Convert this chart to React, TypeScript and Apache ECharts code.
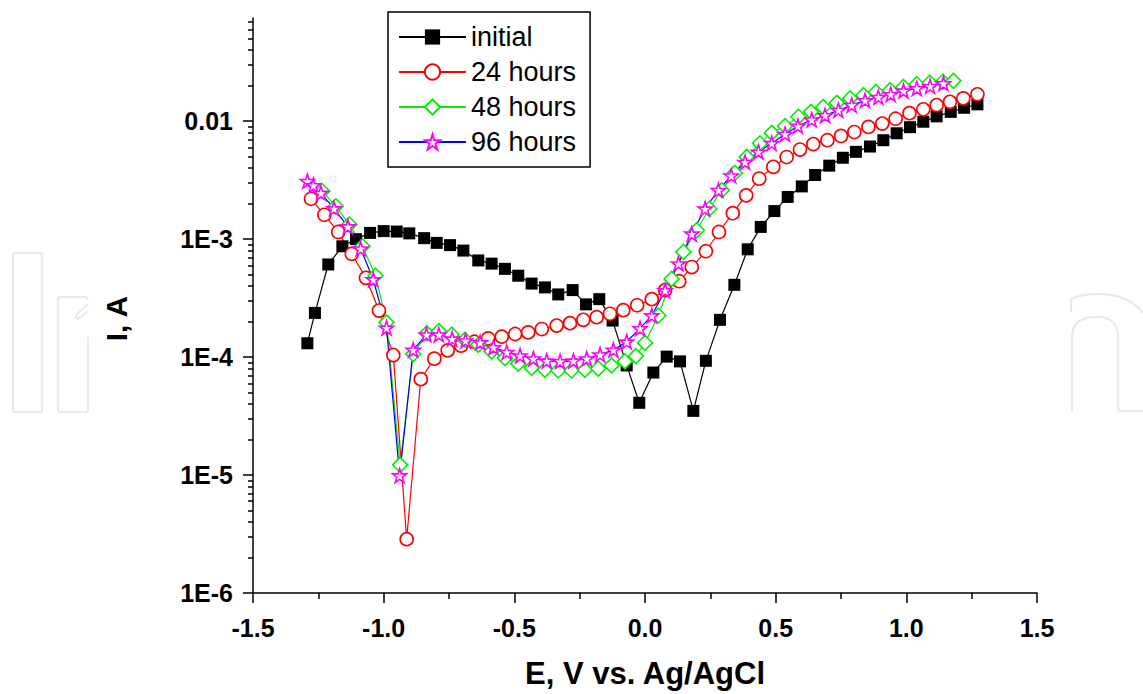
import React, { useEffect, useRef } from "react";
import * as echarts from "echarts";

// ---- data (E in V vs Ag/AgCl, I in A) ----
const initialE = [-1.292, -1.263, -1.212, -1.158, -1.106, -1.052, -1.0, -0.95, -0.902, -0.845, -0.797, -0.746, -0.695, -0.638, -0.587, -0.536, -0.485, -0.434, -0.383, -0.332, -0.277, -0.226, -0.175, -0.124, -0.07, -0.022, 0.032, 0.083, 0.134, 0.185, 0.233, 0.287, 0.342, 0.393, 0.443, 0.495, 0.546, 0.6, 0.651, 0.705, 0.757, 0.807, 0.861, 0.912, 0.963, 1.014, 1.065, 1.116, 1.17, 1.221, 1.272];
const initialI = [1.31e-4, 2.37e-4, 6.1e-4, 8.7e-4, 1.0e-3, 1.13e-3, 1.17e-3, 1.16e-3, 1.12e-3, 1.02e-3, 9.3e-4, 8.9e-4, 8.0e-4, 6.6e-4, 6.2e-4, 5.6e-4, 4.9e-4, 4.2e-4, 3.9e-4, 3.4e-4, 3.7e-4, 2.8e-4, 3.1e-4, 2.04e-4, 8.5e-5, 4.1e-5, 7.4e-5, 1.01e-4, 9.2e-5, 3.5e-5, 9.3e-5, 2.07e-4, 4.1e-4, 8.2e-4, 1.27e-3, 1.73e-3, 2.28e-3, 2.8e-3, 3.5e-3, 4.2e-3, 4.9e-3, 5.5e-3, 6.1e-3, 6.9e-3, 7.9e-3, 8.9e-3, 9.9e-3, 1.1e-2, 1.2e-2, 1.3e-2, 1.39e-2];

const h24E = [-1.278, -1.227, -1.174, -1.122, -1.068, -1.018, -0.963, -0.912, -0.858, -0.806, -0.755, -0.704, -0.653, -0.6, -0.548, -0.497, -0.447, -0.395, -0.338, -0.287, -0.236, -0.185, -0.134, -0.083, -0.03, 0.026, 0.077, 0.131, 0.179, 0.233, 0.283, 0.336, 0.387, 0.437, 0.491, 0.542, 0.593, 0.644, 0.698, 0.75, 0.801, 0.855, 0.908, 0.959, 1.012, 1.065, 1.116, 1.167, 1.218, 1.272];
const h24I = [2.2e-3, 1.61e-3, 1.15e-3, 7.5e-4, 4.7e-4, 2.48e-4, 1.04e-4, 2.86e-6, 6.5e-5, 9.7e-5, 1.14e-4, 1.25e-4, 1.35e-4, 1.44e-4, 1.49e-4, 1.57e-4, 1.62e-4, 1.73e-4, 1.85e-4, 1.94e-4, 2.07e-4, 2.18e-4, 2.33e-4, 2.5e-4, 2.75e-4, 3.1e-4, 3.7e-4, 4.4e-4, 5.8e-4, 7.9e-4, 1.15e-3, 1.66e-3, 2.35e-3, 3.26e-3, 4.1e-3, 4.97e-3, 5.75e-3, 6.4e-3, 6.9e-3, 7.5e-3, 8.1e-3, 8.95e-3, 9.55e-3, 1.05e-2, 1.17e-2, 1.26e-2, 1.37e-2, 1.46e-2, 1.56e-2, 1.69e-2];

const h48E = [-1.235, -1.183, -1.131, -1.081, -1.031, -0.989, -0.937, -0.887, -0.835, -0.789, -0.74, -0.689, -0.638, -0.587, -0.536, -0.485, -0.434, -0.383, -0.332, -0.281, -0.23, -0.179, -0.128, -0.077, -0.035, 0.0, 0.051, 0.102, 0.147, 0.198, 0.246, 0.294, 0.344, 0.389, 0.44, 0.485, 0.536, 0.587, 0.635, 0.682, 0.734, 0.785, 0.836, 0.884, 0.938, 0.989, 1.04, 1.09, 1.14, 1.18];
const h48I = [2.55e-3, 1.9e-3, 1.33e-3, 8.7e-4, 4.9e-4, 1.97e-4, 1.22e-5, 1.06e-4, 1.59e-4, 1.66e-4, 1.55e-4, 1.4e-4, 1.27e-4, 1.12e-4, 9.8e-5, 8.8e-5, 8.1e-5, 7.8e-5, 7.7e-5, 7.7e-5, 7.8e-5, 8.0e-5, 8.5e-5, 9.2e-5, 1.02e-4, 1.32e-4, 2.25e-4, 4.6e-4, 7.8e-4, 1.19e-3, 1.81e-3, 2.6e-3, 3.64e-3, 4.98e-3, 6.5e-3, 7.96e-3, 9.1e-3, 1.09e-2, 1.2e-2, 1.32e-2, 1.43e-2, 1.56e-2, 1.66e-2, 1.77e-2, 1.83e-2, 1.95e-2, 2.06e-2, 2.12e-2, 2.16e-2, 2.2e-2];

const h96E = [-1.292, -1.269, -1.24, -1.19, -1.137, -1.088, -1.04, -0.989, -0.939, -0.887, -0.836, -0.789, -0.738, -0.687, -0.631, -0.58, -0.529, -0.478, -0.427, -0.376, -0.325, -0.274, -0.223, -0.172, -0.121, -0.07, -0.019, 0.026, 0.077, 0.128, 0.179, 0.23, 0.281, 0.33, 0.383, 0.434, 0.485, 0.536, 0.585, 0.638, 0.689, 0.74, 0.791, 0.842, 0.893, 0.94, 0.989, 1.04, 1.091, 1.142];
const h96I = [3.1e-3, 2.86e-3, 2.46e-3, 1.82e-3, 1.28e-3, 8.3e-4, 4.55e-4, 1.77e-4, 9.9e-6, 1.15e-4, 1.55e-4, 1.55e-4, 1.43e-4, 1.38e-4, 1.33e-4, 1.21e-4, 1.1e-4, 1.03e-4, 9.7e-5, 9.3e-5, 9.2e-5, 9.3e-5, 9.7e-5, 1.05e-4, 1.15e-4, 1.35e-4, 1.75e-4, 2.25e-4, 3.67e-4, 6.2e-4, 1.11e-3, 1.81e-3, 2.6e-3, 3.45e-3, 4.5e-3, 5.5e-3, 6.5e-3, 7.76e-3, 9.1e-3, 1.03e-2, 1.12e-2, 1.24e-2, 1.37e-2, 1.5e-2, 1.6e-2, 1.69e-2, 1.81e-2, 1.9e-2, 1.98e-2, 2.09e-2];

const seriesNames = ["initial", "24 hours", "48 hours", "96 hours"];
const yMajorTicks = [1e-6, 1e-5, 1e-4, 1e-3, 1e-2];
const yMinorTicks = [
  2e-6, 3e-6, 4e-6, 5e-6, 6e-6, 7e-6, 8e-6, 9e-6,
  2e-5, 3e-5, 4e-5, 5e-5, 6e-5, 7e-5, 8e-5, 9e-5,
  2e-4, 3e-4, 4e-4, 5e-4, 6e-4, 7e-4, 8e-4, 9e-4,
  2e-3, 3e-3, 4e-3, 5e-3, 6e-3, 7e-3, 8e-3, 9e-3,
  2e-2, 3e-2, 4e-2, 5e-2, 6e-2, 7e-2,
];
const xMin = -1.5;
const xMax = 1.5;
const xStep = 0.5;
const yMin = 1e-6;
const yMax = 0.075;

const zip = (a: number[], b: number[]) => a.map((v, i) => [v, b[i]]);

const FONT = "'Liberation Sans', Arial, sans-serif";
const STAR =
  "path://M50,0 L61.8,35.4 L99,35.4 L69,57.3 L80.9,92.7 L50,70.8 L19.1,92.7 L31,57.3 L1,35.4 L38.2,35.4 Z";

const WATERMARK =
  "M15,253 L40,253 Q42,253 42,255 L42,410 Q42,412 40,412 L15,412 Q13,412 13,410 L13,255 Q13,253 15,253 Z " +
  "M88,337 L88,410 Q88,412 86,412 L60,412 Q58,412 58,410 L58,299 Q58,297 60,297 L84,297 Q87,297 88,300 " +
  "M88,304 L77,314 Q74,318 78,319 L88,311 " +
  "M1071,312 L1071,299 C1085,292 1125,289 1143,313 " +
  "M1072,411 L1072,337 Q1072,317 1097,317 Q1118,317 1118,337 L1118,408 Q1118,411 1121,411 L1143,411";

let registered = false;

export default function App() {
  const ref = useRef<HTMLDivElement>(null);
  useEffect(() => {
    if (!ref.current) return;
    if (!registered) {
      echarts.graphic.registerShape("wmark", echarts.graphic.extendPath(WATERMARK, {}));
      registered = true;
    }
    const chart = echarts.init(ref.current, undefined, { renderer: "svg" });
    const line = (
      name: string,
      data: number[][],
      lineColor: string,
      symbol: string,
      size: number,
      fill: string,
      border: string
    ) => ({
      name,
      type: "line",
      data,
      yAxisIndex: 0,
      symbol,
      symbolSize: size,
      showSymbol: true,
      clip: false,
      lineStyle: { color: lineColor, width: 1.2 },
      itemStyle: { color: fill, borderColor: border, borderWidth: fill === border ? 0 : 1.6 },
      emphasis: { disabled: true },
      z: 2,
    });
    chart.setOption({
      animation: false,
      backgroundColor: "#ffffff",
      graphic: [
        {
          type: "wmark",
          x: 0,
          y: 0,
          z: -10,
          silent: true,
          style: { fill: "none", stroke: "#e9e9e9", lineWidth: 2.2 },
        },
      ],
      grid: { left: 253, right: 106, top: 18, bottom: 101 },
      legend: {
        orient: "vertical",
        left: 388,
        top: 12,
        padding: [11, 14, 11, 10],
        itemGap: 7,
        itemWidth: 67,
        itemHeight: 19,
        borderColor: "#000",
        borderWidth: 1.5,
        data: seriesNames,
        textStyle: { fontSize: 27, fontFamily: FONT, color: "#000", lineHeight: 28 },
      },
      xAxis: {
        type: "value",
        min: xMin,
        max: xMax,
        interval: xStep,
        name: "E, V vs. Ag/AgCl",
        nameLocation: "middle",
        nameGap: 65,
        nameTextStyle: { fontSize: 31, fontWeight: "bold", fontFamily: FONT, color: "#000" },
        axisLine: { show: true, onZero: false, lineStyle: { color: "#000", width: 1.5 } },
        axisTick: { show: true, length: 10, lineStyle: { color: "#000", width: 1.5 } },
        minorTick: { show: true, splitNumber: 2, length: 6, lineStyle: { color: "#000", width: 1.5 } },
        splitLine: { show: false },
        axisLabel: {
          margin: 22,
          fontSize: 25,
          fontWeight: "bold",
          fontFamily: FONT,
          color: "#000",
          formatter: (v: number) => v.toFixed(1),
        },
      },
      yAxis: [
        {
          type: "log",
          logBase: 10,
          min: yMin,
          max: yMax,
          name: "I, A",
          nameLocation: "middle",
          nameGap: 122,
          nameRotate: 90,
          nameTextStyle: {
            fontSize: 30,
            fontWeight: "bold",
            fontFamily: FONT,
            color: "#000",
            padding: [0, 26, 0, 0],
          },
          axisLine: { show: true, onZero: false, lineStyle: { color: "#000", width: 1.5 } },
          axisTick: { show: true, length: 10, customValues: yMajorTicks, lineStyle: { color: "#000", width: 1.5 } },
          splitLine: { show: false },
          minorTick: { show: false },
          axisLabel: {
            margin: 20,
            customValues: yMajorTicks,
            fontSize: 25,
            fontWeight: "bold",
            fontFamily: FONT,
            color: "#000",
            formatter: (v: number) => {
              const e = Math.round(Math.log10(v));
              return e === -2 ? "0.01" : "1E" + e;
            },
          },
        },
        {
          type: "log",
          logBase: 10,
          min: yMin,
          max: yMax,
          position: "left",
          offset: 0,
          axisLine: { show: false, onZero: false },
          axisTick: { show: true, length: 5, customValues: yMinorTicks, lineStyle: { color: "#000", width: 1.5 } },
          axisLabel: { show: false },
          splitLine: { show: false },
        },
      ],
      series: [
        line(seriesNames[0], zip(initialE, initialI), "#000000", "rect", 12, "#000000", "#000000"),
        line(seriesNames[1], zip(h24E, h24I), "#ff0000", "circle", 13, "#ffffff", "#ff0000"),
        line(seriesNames[2], zip(h48E, h48I), "#00ee00", "diamond", 15, "#ffffff", "#00ee00"),
        line(seriesNames[3], zip(h96E, h96I), "#0000ff", STAR, 14, "#ffffff", "#ff00ff"),
      ],
    });
    return () => chart.dispose();
  }, []);
  return (
    <div
      ref={ref}
      style={{ position: "absolute", left: 0, top: 0, width: 1143, height: 694, background: "#fff" }}
    />
  );
}
